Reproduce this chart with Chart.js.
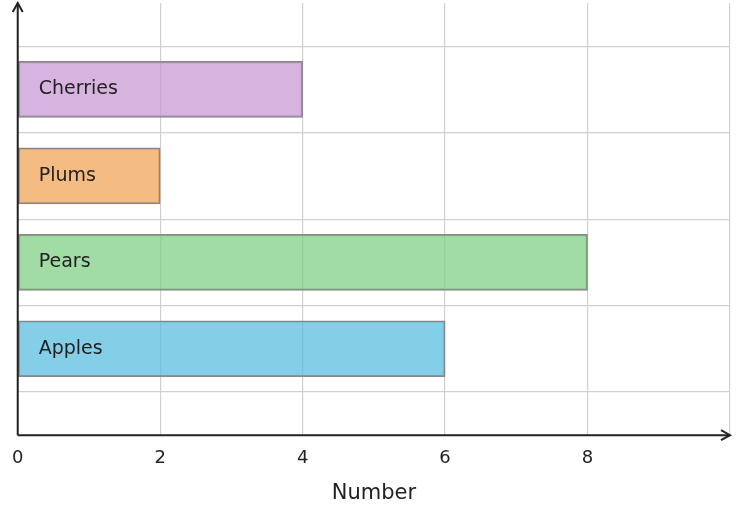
<!DOCTYPE html>
<html><head><meta charset="utf-8">
<script src="https://cdn.jsdelivr.net/npm/chart.js@4"></script>
<style>html,body{margin:0;padding:0;background:#fff}</style></head>
<body><canvas id="c" width="742" height="508"></canvas>
<script>
const categories = ['Apples','Pears','Plums','Cherries'];
const positions = [1,2,3,4];
const values = [6,8,2,4];
const xTicks = [0,2,4,6,8];
const colors = ['rgba(91,190,224,0.75)','rgba(126,206,130,0.72)','rgba(240,166,90,0.75)','rgba(200,150,210,0.72)'];

const labelPlugin = {
  id:'lbl',
  afterDatasetsDraw(chart){
    const ctx=chart.ctx, xs=chart.scales.x, ys=chart.scales.y;
    ctx.save();
    ctx.font='19px "DejaVu Sans"'; ctx.fillStyle='#222'; ctx.textBaseline='middle';
    categories.forEach((c,i)=>ctx.fillText(c, xs.getPixelForValue(0)+21, ys.getPixelForValue(positions[i])));
    const a=chart.chartArea;
    ctx.strokeStyle='#222'; ctx.lineWidth=2;
    ctx.beginPath(); ctx.moveTo(a.left,a.bottom); ctx.lineTo(a.left,a.top); ctx.moveTo(a.left,a.bottom); ctx.lineTo(a.right,a.bottom); ctx.stroke();
    ctx.beginPath(); ctx.moveTo(a.left-5,a.top+9); ctx.lineTo(a.left,a.top); ctx.lineTo(a.left+5,a.top+9);
    ctx.moveTo(a.right-9,a.bottom-5); ctx.lineTo(a.right,a.bottom); ctx.lineTo(a.right-9,a.bottom+5); ctx.stroke();
    ctx.restore();
  }
};

new Chart(document.getElementById('c'),{
  type:'bar',
  data:{datasets:[{data:values.map((v,i)=>({x:v,y:positions[i]})),backgroundColor:colors,borderColor:'#888',borderWidth:1.5,borderSkipped:false,barThickness:56}]},
  options:{
    indexAxis:'y',responsive:false,animation:false,
    layout:{padding:{left:0,right:0,top:3,bottom:0}},
    plugins:{legend:{display:false},tooltip:{enabled:false}},
    scales:{
      x:{type:'linear',min:0,max:10,border:{display:false},
        afterBuildTicks(s){s.ticks=[0,2,4,6,8,10].map(v=>({value:v}));},
        grid:{color:'#d0d0d0',lineWidth:1.2,drawTicks:false},
        ticks:{padding:12,color:'#222',font:{family:'DejaVu Sans',size:18},callback:v=>xTicks.includes(v)?String(v):''},
        title:{display:true,text:'Number',color:'#222',font:{family:'DejaVu Sans',size:21},padding:{top:0,bottom:2}}},
      y:{type:'linear',min:0,max:5,offset:false,border:{display:false},
        afterBuildTicks(s){s.ticks=[0,1,2,3,4,5].map(v=>({value:v}));},
        afterFit(s){s.width=0;},
        grid:{color:'#d0d0d0',lineWidth:1.2,drawTicks:false},
        ticks:{display:false}}
    }
  },
  plugins:[labelPlugin]
});
</script></body></html>
